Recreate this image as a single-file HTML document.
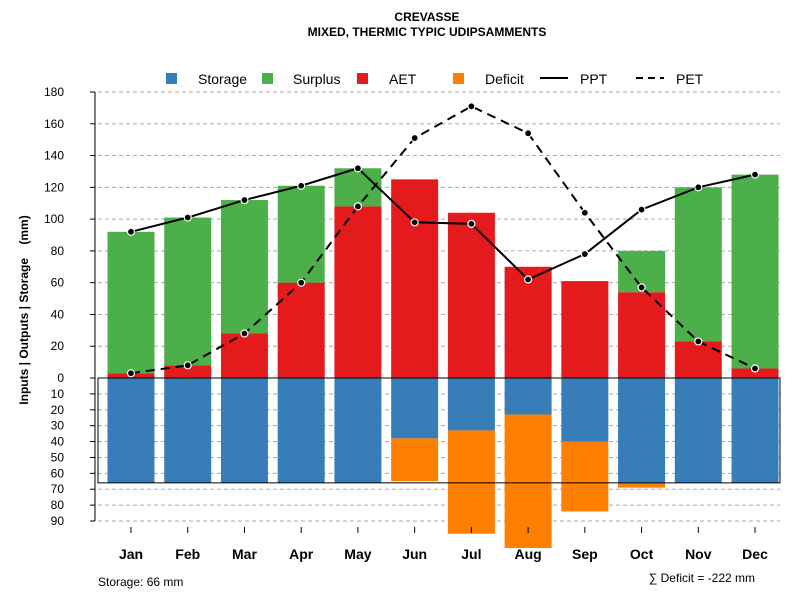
<!DOCTYPE html>
<html><head><meta charset="utf-8"><style>body{margin:0;background:#fff}svg{font-family:"Liberation Sans",sans-serif}</style></head>
<body>
<svg id="c" width="800" height="600" xmlns="http://www.w3.org/2000/svg">
<text x="427" y="21" text-anchor="middle" font-size="12" font-weight="bold">CREVASSE</text>
<text x="427" y="36" text-anchor="middle" font-size="12" font-weight="bold">MIXED, THERMIC TYPIC UDIPSAMMENTS</text>
<g id="legend" font-size="14">
<rect x="166" y="73" width="11" height="11" fill="#377eb8"/><text x="198" y="84">Storage</text>
<rect x="262" y="73" width="11" height="11" fill="#4daf4a"/><text x="293" y="84">Surplus</text>
<rect x="357" y="73" width="11" height="11" fill="#e41a1c"/><text x="389" y="84">AET</text>
<rect x="453" y="73" width="11" height="11" fill="#ff7f00"/><text x="485" y="84">Deficit</text>
<line x1="540" y1="78" x2="568" y2="78" stroke="#000" stroke-width="2"/><text x="580" y="84">PPT</text>
<line x1="636" y1="78" x2="664" y2="78" stroke="#000" stroke-width="2" stroke-dasharray="7,5"/><text x="676" y="84">PET</text>
</g>
<text transform="translate(28,310) rotate(-90)" text-anchor="middle" font-size="12" font-weight="bold">Inputs | Outputs | Storage&#160;&#160;&#160;&#160;(mm)</text>
<text x="98" y="586" font-size="12">Storage: 66 mm</text>
<text x="755" y="582" text-anchor="end" font-size="12">∑ Deficit = -222 mm</text>
</svg>
<script>
const months=["Jan","Feb","Mar","Apr","May","Jun","Jul","Aug","Sep","Oct","Nov","Dec"];
const storage=[66,66,66,66,66,38,33,23,40,66,66,66];
const deficit=[0,0,0,0,0,27,65,84,44,3,0,0];
const aet=[3,8,28,60,108,125,104,70,61,54,23,6];
const surplus=[89,93,84,61,24,0,0,0,0,26,97,122];
const ppt=[92,101,112,121,132,98,97,62,78,106,120,128];
const pet=[3,8,28,60,108,151,171,154,104,57,23,6];
const upTicks=[0,20,40,60,80,100,120,140,160,180];
const downTicks=[10,20,30,40,50,60,70,80,90];
const maxStorage=66;
const svg=document.getElementById('c'),NS="http://www.w3.org/2000/svg";
const y0=378,k=286/180;
const yUp=v=>y0-v*k, yDn=v=>y0+v*k;
const xC=i=>131+i*56.73, bw=47;
function mk(t,a,p){const e=document.createElementNS(NS,t);for(const n in a)e.setAttribute(n,a[n]);(p||svg).appendChild(e);return e;}
upTicks.forEach(v=>{if(v>0){const g=mk('line',{x1:98,x2:780,y1:yUp(v),y2:yUp(v),stroke:'#aaa','stroke-dasharray':'4,3'});

}
const l=mk('line',{x1:90,x2:95,y1:yUp(v),y2:yUp(v),stroke:'#000'});


const t=mk('text',{x:64,y:yUp(v)+4,'text-anchor':'end','font-size':12});t.textContent=v;

});
downTicks.forEach(v=>{const g=mk('line',{x1:98,x2:780,y1:yDn(v),y2:yDn(v),stroke:'#aaa','stroke-dasharray':'4,3'});


const l=mk('line',{x1:90,x2:95,y1:yDn(v),y2:yDn(v),stroke:'#000'});


const t=mk('text',{x:64,y:yDn(v)+4,'text-anchor':'end','font-size':12});t.textContent=v;

});
const ax=mk('line',{x1:95,x2:95,y1:yUp(180),y2:yDn(90),stroke:'#000'});


months.forEach((m,i)=>{const x=xC(i)-bw/2;
let r=mk('rect',{x:x,y:y0,width:bw,height:storage[i]*k,fill:'#377eb8'});


if(deficit[i]>0){r=mk('rect',{x:x,y:yDn(storage[i]),width:bw,height:deficit[i]*k,fill:'#ff7f00'});

}
r=mk('rect',{x:x,y:yUp(aet[i]),width:bw,height:aet[i]*k,fill:'#e41a1c'});


if(surplus[i]>0){r=mk('rect',{x:x,y:yUp(aet[i]+surplus[i]),width:bw,height:surplus[i]*k,fill:'#4daf4a'});

}
const tk=mk('line',{x1:xC(i),x2:xC(i),y1:527,y2:533,stroke:'#000'});


const t=mk('text',{x:xC(i),y:559,'text-anchor':'middle','font-size':14,'font-weight':'bold'});t.textContent=m;

});
const box=mk('rect',{x:98,y:y0,width:682,height:maxStorage*k,fill:'none',stroke:'#000'});


function line(arr,name,dash){const p=mk('polyline',{points:arr.map((v,i)=>xC(i)+','+yUp(v)).join(' '),fill:'none',stroke:'#000','stroke-width':2,'stroke-dasharray':dash});


arr.forEach((v,i)=>{const c=mk('circle',{cx:xC(i),cy:yUp(v),r:3.5,fill:'#000',stroke:'#fff','stroke-width':1.2});

});}
line(ppt,'ppt','none');
line(pet,'pet','9,6');
</script>
</body></html>
